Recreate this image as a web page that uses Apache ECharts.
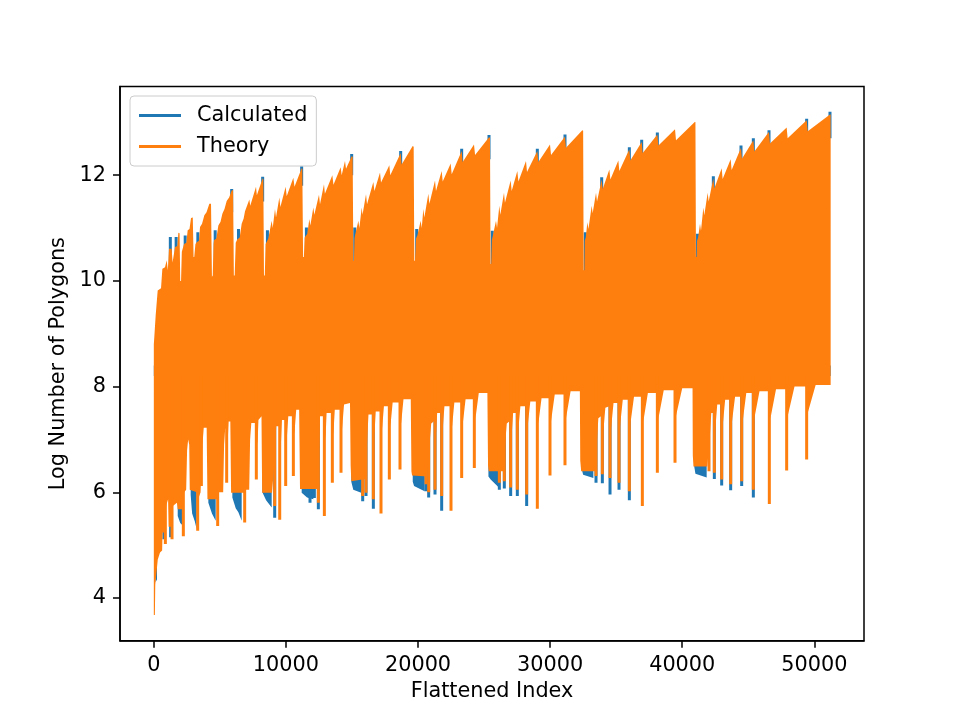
<!DOCTYPE html>
<html><head><meta charset="utf-8">
<script src="https://cdn.jsdelivr.net/npm/echarts@6/dist/echarts.min.js"></script>
<style>html,body{margin:0;padding:0;background:#fff}#c{width:960px;height:720px}</style>
</head><body><div id="c"></div>
<script>
// ---- data ----
const xTicks = [0, 10000, 20000, 30000, 40000, 50000];
const yTicks = [4, 6, 8, 10, 12];

// Theory: upper edge of the dense oscillation band [index, value]
const theoryUpper = [
[0,8.80],[40,8.95],[141,9.35],[293,9.82],[545,9.86],[646,10.23],[848,10.26],[974,10.39],[1060,10.20],[1150,10.61],[1350,10.61],[1420,10.35],
[1605,10.64],[1780,10.66],[1857,10.91],[1950,10.90],[2000,10.0],[2060,10.0],[2120,10.55],[2286,10.70],[2463,10.72],[2563,10.96],[2700,10.98],
[2816,11.19],[2950,11.20],[3010,10.45],[3060,10.45],[3150,10.70],[3245,10.73],[3421,10.76],[3497,11.02],[3650,11.08],[3825,11.24],[3990,11.30],
[4203,11.46],[4330,11.46],[4400,10.08],[4460,10.10],[4520,10.70],[4557,10.77],[4733,10.80],[4885,11.05],[5050,11.12],[5188,11.27],[5350,11.36],
[5515,11.51],[5700,11.58],[5894,11.71],[6000,11.72],[6060,10.10],[6120,10.10],[6200,10.72],[6323,10.79],[6500,10.82],[6651,11.08],[6800,11.18],
[6903,11.32],[7230,11.54],[7300,11.42],[7735,11.78],[7800,11.62],[8239,11.94],[8290,11.92],[8340,10.10],[8400,10.10],[8460,10.70],[8668,10.80],
[8921,11.14],[9000,11.0],[9173,11.36],[9250,11.2],[9501,11.58],[9580,11.40],[9980,11.78],[10060,11.60],[10561,11.95],[10650,11.78],[11191,12.13],
[11242,12.12],[11300,10.45],[11360,10.45],[11418,10.82],[11620,10.89],[11772,11.17],[11850,11.05],[12074,11.39],[12150,11.25],[12503,11.63],
[12580,11.45],[12882,11.83],[12950,11.65],[13513,12.00],[13600,11.82],[14143,12.15],[14220,12.0],[14471,12.27],[14550,12.12],[14978,12.36],
[15054,12.35],[15104,10.38],[15150,10.38],[15190,10.80],[15230,10.86],[15483,11.14],[15560,11.0],[15735,11.39],[15800,11.25],[16063,11.64],
[16140,11.45],[16618,11.87],[16700,11.70],[17123,12.05],[17200,11.86],[17829,12.19],[17900,12.0],[18687,12.42],[18760,12.2],[19595,12.55],
[19671,12.54],[19720,10.38],[19770,10.38],[19848,10.80],[19949,10.86],[20201,11.14],[20280,11.0],[20403,11.36],[20480,11.2],[20781,11.65],
[20860,11.46],[21286,11.90],[21360,11.70],[21790,12.08],[21870,11.88],[22471,12.22],[22550,12.02],[23304,12.46],[23380,12.25],[24237,12.58],
[24320,12.38],[25373,12.72],[25449,12.71],[25490,10.32],[25540,10.32],[25590,10.78],[25651,10.84],[25903,11.14],[25980,11.0],[26155,11.42],
[26230,11.25],[26508,11.67],[26580,11.48],[27013,11.90],[27090,11.70],[27517,12.08],[27600,11.88],[28173,12.27],[28250,12.06],[29031,12.46],
[29110,12.25],[29990,12.58],[30070,12.38],[31125,12.73],[31200,12.52],[32437,12.85],[32500,12.84],[32540,10.20],[32590,10.20],[32620,10.76],
[32700,10.82],[32818,11.11],[32900,10.98],[33146,11.42],[33220,11.28],[33474,11.67],[33550,11.5],[33903,11.92],[33980,11.74],[34483,12.11],
[34560,11.92],[35164,12.28],[35240,12.08],[35997,12.49],[36070,12.28],[36931,12.63],[37010,12.42],[38117,12.77],[38200,12.56],[39454,12.87],
[39530,12.66],[40967,13.01],[41000,13.00],[41040,10.45],[41090,10.45],[41120,10.76],[41200,10.82],[41346,11.08],[41420,10.95],[41598,11.39],
[41670,11.24],[41926,11.67],[42000,11.5],[42355,11.94],[42430,11.75],[42986,12.13],[43060,11.93],[43667,12.30],[43740,12.10],[44449,12.52],
[44520,12.31],[45383,12.66],[45460,12.45],[46569,12.82],[46640,12.60],[47906,12.90],[47980,12.70],[49419,13.04],[49500,12.83],[51185,13.15],
[51236,13.15]
];

// Theory: lower edge of the band (arches and clusters) [index, value]
const theoryLower = [
[0,3.68],[80,3.68],[110,4.25],[300,4.73],[470,4.86],[630,4.90],[660,5.24],[820,5.24],[940,5.75],[1080,5.87],[1120,5.35],[1320,5.35],
[1440,5.74],[1750,5.80],[1810,5.68],[2180,5.68],[2300,6.0],[2450,6.05],[2520,6.8],[2600,7.0],[2680,6.9],[2720,6.05],[3260,6.0],[3400,5.90],
[3540,6.0],[3680,6.9],[3780,7.22],[4000,7.22],[4060,5.87],[4780,5.87],[4900,6.0],[5250,6.0],[5320,6.9],[5400,7.2],[5460,7.2],[5580,6.9],
[5660,7.34],[5790,7.34],[5850,5.99],[6820,5.99],[6950,6.05],[7220,6.05],[7290,7.0],[7380,7.31],[7700,7.31],[7850,6.9],[7920,7.37],[8150,7.44],
[8200,5.99],[8950,5.99],[9200,6.8],[9260,7.25],[9470,7.25],[9620,6.9],[9700,7.37],[9930,7.37],[10060,7.0],[10180,7.44],[10500,7.44],[10640,7.1],
[10780,7.56],[11000,7.56],[11067,6.06],[12400,6.06],[12520,6.9],[12580,7.44],[12850,7.44],[12990,7.0],[13080,7.50],[13450,7.50],[13590,7.1],
[13700,7.56],[14100,7.56],[14250,7.2],[14400,7.66],[14850,7.69],[14900,6.5],[14950,6.21],[16000,6.25],[16150,7.0],[16250,7.47],[16550,7.47],
[16700,7.1],[16800,7.53],[17140,7.53],[17280,7.2],[17420,7.63],[17770,7.63],[17910,7.25],[18080,7.70],[18580,7.70],[18720,7.3],[18900,7.76],
[19450,7.76],[19500,6.4],[19550,6.32],[20700,6.3],[20900,7.0],[21000,7.3],[21230,7.35],[21360,7.1],[21450,7.50],[21730,7.50],[21870,7.2],
[22000,7.63],[22440,7.63],[22580,7.25],[22750,7.70],[23250,7.70],[23390,7.3],[23600,7.76],[24200,7.76],[24350,7.4],[24600,7.88],[25250,7.88],
[25300,6.5],[25350,6.40],[26450,6.4],[26620,7.0],[26720,7.3],[26950,7.35],[27090,7.1],[27200,7.5],[27460,7.5],[27600,7.2],[27750,7.63],
[28160,7.63],[28300,7.25],[28500,7.72],[28970,7.72],[29110,7.3],[29350,7.78],[29930,7.78],[30070,7.35],[30350,7.85],[31060,7.85],[31200,7.4],
[31550,7.91],[32250,7.91],[32280,6.6],[32350,6.40],[33400,6.40],[33550,7.0],[33650,7.4],[33900,7.45],[34030,7.15],[34180,7.6],[34480,7.63],
[34610,7.2],[34800,7.69],[35160,7.69],[35290,7.25],[35500,7.75],[35940,7.75],[36080,7.3],[36350,7.81],[36920,7.81],[37060,7.35],[37400,7.88],
[38060,7.88],[38200,7.4],[38600,7.93],[39400,7.93],[39530,7.45],[40000,7.97],[40780,7.97],[40800,6.7],[40850,6.49],[41900,6.49],[42100,7.1],
[42200,7.5],[42380,7.5],[42510,7.2],[42650,7.66],[42930,7.66],[43060,7.25],[43250,7.75],[43610,7.75],[43750,7.3],[44000,7.81],[44440,7.81],
[44580,7.35],[44850,7.88],[45320,7.88],[45460,7.4],[45850,7.91],[46530,7.91],[46680,7.4],[47100,7.95],[47840,7.95],[47990,7.45],[48500,8.0],
[49360,8.0],[49500,7.5],[50100,8.03],[51236,8.03]
];

// Theory: narrow downward dips [index, lowest value]
const theoryDips = [
[873,5.02],[1378,5.11],[2235,5.17],[3320,5.27],[3600,6.12],[4834,5.36],[5515,6.18],[6878,5.43],[7760,6.24],[9150,5.74],[9530,5.48],
[9982,6.12],[10563,6.31],[12455,5.80],[12910,5.55],[13514,6.18],[14170,6.37],[15811,5.93],[16063,5.99],[16618,5.87],[17198,5.60],
[17829,6.24],[18636,6.43],[20604,6.15],[20806,6.0],[21286,6.05],[21790,5.93],[22496,5.65],[23304,6.27],[24262,6.46],[26155,6.18],
[26533,6.21],[27013,6.09],[27517,6.05],[28224,5.96],[29031,5.69],[29990,6.32],[31125,6.51],[33474,6.31],[33953,6.34],[34534,6.27],
[35215,6.18],[35997,6.02],[36981,5.74],[38117,6.37],[39454,6.56],[42027,6.40],[42431,6.37],[42986,6.24],[43667,6.15],[44500,6.21],
[45383,6.05],[46594,5.78],[47906,6.41],[49419,6.62]
];
const dipTop = 8.2;

// Calculated: band core and lower clusters [index, value]
const calcUpper = [[0,8.4],[51236,8.4]];
const calcLower = [
[0,8.2],[120,8.2],[130,4.30],[240,4.35],[250,8.2],[640,8.2],[650,5.11],[780,5.11],[790,8.2],[1150,8.2],[1160,5.15],[1320,5.15],[1330,8.2],
[1800,8.2],[1810,5.55],[2000,5.42],[2150,5.38],[2160,8.2],[2780,8.2],[2790,5.95],[2900,5.6],[3100,5.45],[3245,5.30],[3255,8.2],
[4118,8.2],[4128,5.8],[4400,5.6],[4683,5.46],[4693,8.2],[5935,8.2],[5945,5.9],[6200,5.7],[6400,5.62],[6651,5.46],[6661,8.2],
[8206,8.2],[8216,6.0],[8500,5.85],[8923,5.71],[8933,8.2],[11183,8.2],[11193,5.99],[11600,5.9],[12076,5.87],[12086,8.2],
[14940,8.2],[14950,6.2],[15100,6.05],[15700,5.99],[15710,8.2],[19590,8.2],[19600,6.2],[19700,6.12],[20500,6.02],[20510,8.2],
[25320,8.2],[25330,6.3],[25500,6.24],[26080,6.1],[26090,8.2],[32370,8.2],[32380,6.45],[32500,6.33],[33272,6.27],[33282,8.2],
[40890,8.2],[40900,6.5],[41000,6.35],[41850,6.28],[41860,8.2],[51236,8.2]
];
// Calculated: dips reaching below theory [index, from, to]
const calcDips = [
[9150,5.52,8.2],[11824,5.80,8.2],[12152,5.89,8.2],[12455,5.68,8.2],[15811,5.83,8.2],[16063,5.93,8.2],[16618,5.69,8.2],
[20604,6.02,8.2],[20806,5.90,8.2],[21286,5.96,8.2],[21790,5.65,8.2],[26155,6.05,8.2],[26533,6.07,8.2],[27013,5.93,8.2],
[27517,5.93,8.2],[28224,5.74,8.2],[33474,6.18,8.2],[33953,6.17,8.2],[34534,5.96,8.2],[35215,6.05,8.2],[35997,5.85,8.2],
[42431,6.25,8.2],[42986,6.13,8.2],[43667,6.04,8.2],[44500,6.12,8.2],[45383,5.90,8.2]
];
// Calculated: tips above theory [index, from, to]
const calcTips = [
[1250,10.0,10.83],[1690,10.0,10.83],[2375,10.0,10.86],[3333,10.0,10.92],[4645,10.0,10.96],[6410,10.0,10.98],[8600,10.0,10.96],
[11550,10.0,11.01],[15210,10.0,11.01],[19900,10.0,10.98],[25620,10.0,10.95],[32660,10.0,10.92],[41160,10.0,10.89],
[5894,11.3,11.74],[8239,11.5,11.97],[11191,11.8,12.17],[14978,12.0,12.40],[18687,12.0,12.46],[23304,12.0,12.50],[25373,12.3,12.76],
[29031,12.0,12.50],[31125,12.3,12.77],[33903,11.5,11.96],[35997,12.0,12.53],[36931,12.2,12.67],[38117,12.3,12.81],[42355,11.5,11.98],
[44449,12.0,12.56],[45383,12.2,12.70],[46569,12.3,12.85],[49419,12.5,13.07],[51185,12.7,13.20]
];

// ---- rendering ----
const BLUE = '#1f77b4', ORANGE = '#ff7f0e';
const FONT = 'DejaVu Sans';

function bandRender(upper, lower, color) {
  return function (params, api) {
    if (params.dataIndex !== 0) return null;
    const pts = [];
    for (let i = 0; i < upper.length; i++) pts.push(api.coord(upper[i]));
    for (let i = lower.length - 1; i >= 0; i--) pts.push(api.coord(lower[i]));
    return { type: 'polygon', shape: { points: pts }, style: { fill: color } };
  };
}
function segRender(color, width) {
  return function (params, api) {
    const a = api.coord([api.value(0), api.value(1)]);
    const b = api.coord([api.value(0), api.value(2)]);
    return { type: 'line', shape: { x1: a[0], y1: a[1], x2: b[0], y2: b[1] },
             style: { stroke: color, lineWidth: width, lineCap: 'butt' } };
  };
}

const theoryDipRows = theoryDips.map(d => [d[0], d[1], dipTop]);

const chart = echarts.init(document.getElementById('c'), null, { renderer: 'canvas' });
chart.setOption({
  animation: false,
  backgroundColor: '#ffffff',
  grid: { left: 120, right: 96, top: 86.4, bottom: 79.2, show: true, borderColor: '#000', borderWidth: 1.5, backgroundColor: 'transparent' },
  legend: {
    orient: 'vertical', left: 130, top: 96,
    data: [{ name: 'Calculated', icon: 'rect' }, { name: 'Theory', icon: 'rect' }],
    itemWidth: 42, itemHeight: 3, itemGap: 10,
    padding: [9, 9, 9, 9],
    backgroundColor: 'rgba(255,255,255,0.8)', borderColor: '#cccccc', borderWidth: 1, borderRadius: 4,
    textStyle: { fontFamily: FONT, fontSize: 20.8, color: '#000', padding: [0, 0, 0, 11], lineHeight: 21 },
    selectedMode: false
  },
  xAxis: {
    type: 'value', min: -2560, max: 53760,
    name: 'Flattened Index', nameLocation: 'middle', nameGap: 40,
    nameTextStyle: { fontFamily: FONT, fontSize: 20.8, color: '#000' },
    splitLine: { show: false },
    axisLine: { show: true, onZero: false, lineStyle: { color: '#000', width: 1.5 } },
    axisTick: { show: true, length: 7, lineStyle: { color: '#000', width: 1.5 }, customValues: xTicks },
    axisLabel: { customValues: xTicks, margin: 14, fontFamily: FONT, fontSize: 20.8, color: '#000',
                 formatter: v => String(Math.round(v)) }
  },
  yAxis: {
    type: 'value', min: 3.19, max: 13.68,
    name: 'Log Number of Polygons', nameLocation: 'middle', nameGap: 50,
    nameTextStyle: { fontFamily: FONT, fontSize: 20.8, color: '#000' },
    splitLine: { show: false },
    axisLine: { show: true, onZero: false, lineStyle: { color: '#000', width: 1.5 } },
    axisTick: { show: true, length: 7, lineStyle: { color: '#000', width: 1.5 }, customValues: yTicks },
    axisLabel: { customValues: yTicks, margin: 14, fontFamily: FONT, fontSize: 20.8, color: '#000',
                 formatter: v => String(Math.round(v)) }
  },
  series: [
    { name: 'Calculated', type: 'custom', clip: true, itemStyle: { color: BLUE },
      data: calcLower, encode: { x: 0, y: 1 }, renderItem: bandRender(calcUpper, calcLower, BLUE) },
    { name: 'Calculated', type: 'custom', clip: true, itemStyle: { color: BLUE },
      data: calcDips, encode: { x: 0, y: [1, 2] }, renderItem: segRender(BLUE, 3) },
    { name: 'Calculated', type: 'custom', clip: true, itemStyle: { color: BLUE },
      data: calcTips, encode: { x: 0, y: [1, 2] }, renderItem: segRender(BLUE, 3) },
    { name: 'Theory', type: 'custom', clip: true, itemStyle: { color: ORANGE },
      data: theoryUpper, encode: { x: 0, y: 1 }, renderItem: bandRender(theoryUpper, theoryLower, ORANGE) },
    { name: 'Theory', type: 'custom', clip: true, itemStyle: { color: ORANGE },
      data: theoryDipRows, encode: { x: 0, y: [1, 2] }, renderItem: segRender(ORANGE, 3) }
  ]
});
</script>
</body></html>
